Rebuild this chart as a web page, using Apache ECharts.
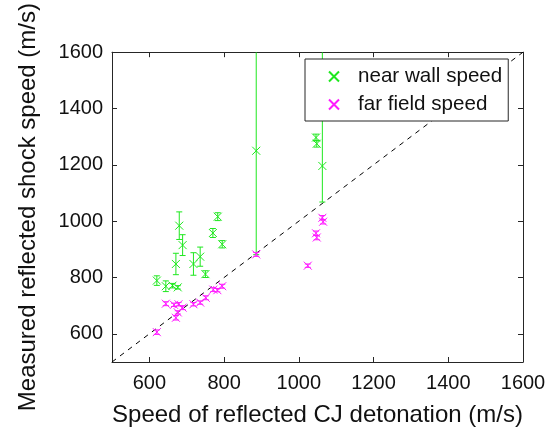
<!DOCTYPE html>
<html><head><meta charset="utf-8">
<script src="https://cdn.jsdelivr.net/npm/echarts@6/dist/echarts.min.js"></script>
<style>html,body{margin:0;padding:0;background:#fff}#c{width:550px;height:434px}</style>
</head><body><div id="c"></div>
<script>
// Axis tick labels
const xTicks = [600, 800, 1000, 1200, 1400, 1600];
const yTicks = [600, 800, 1000, 1200, 1400, 1600];

// near wall speed (green)
const nearX     = [620, 644, 662, 676, 671, 680, 689, 718, 736, 750, 770, 783, 795, 886, 1046, 1048, 1063, 1030];
const nearY     = [789, 769, 771, 765, 848, 984, 915, 848, 874, 812, 958, 1016, 918, 1250, 1297, 1275, 1196, 1385];
const nearErrLo = [17, 19, 8, 6, 38, 49, 37, 40, 34, 12, 16, 14, 13, 369, 12, 12, 128, 10];
const nearErrHi = [17, 19, 8, 6, 38, 49, 37, 40, 34, 12, 16, 14, 13, 500, 12, 12, 500, 10];

// far field speed (magenta)
const farX     = [620, 644, 666, 678, 689, 676, 671, 718, 736, 751, 771, 782, 795, 886, 1024, 1046, 1048, 1063, 1065];
const farY     = [606, 707, 703, 705, 693, 676, 657, 705, 711, 728, 757, 755, 769, 882, 842, 957, 942, 1012, 998];
const farErr   = [8, 7, 6, 6, 7, 6, 8, 6, 6, 7, 7, 6, 7, 7, 6, 8, 8, 8, 8];

// reference line y = x
const refLine = [[500, 500], [1600, 1600]];

const X_MIN = 500, X_MAX = 1600, Y_MIN = 500, Y_MAX = 1600;
const GREEN = '#1ee81e', MAGENTA = '#ff1aff', AX = '#262626';
const XSYM = 'path://M0,0L10,10M10,0L0,10';

function errData(xs, ys, lo, hi) {
  return xs.map((x, i) => [x, ys[i] - lo[i], ys[i] + hi[i]]);
}
function errItem(params, api) {
  const x = api.value(0), lo = api.value(1), hi = api.value(2);
  const top = Math.min(hi, Y_MAX);
  const p1 = api.coord([x, lo]), p2 = api.coord([x, top]);
  const c = api.visual('color');
  const st = { stroke: c, lineWidth: 1 };
  const w = 3;
  const ch = [
    { type: 'line', shape: { x1: p1[0], y1: p1[1], x2: p2[0], y2: p2[1] }, style: st },
    { type: 'line', shape: { x1: p1[0] - w, y1: p1[1], x2: p1[0] + w, y2: p1[1] }, style: st }
  ];
  if (hi <= Y_MAX) ch.push({ type: 'line', shape: { x1: p2[0] - w, y1: p2[1], x2: p2[0] + w, y2: p2[1] }, style: st });
  return { type: 'group', children: ch };
}

const chart = echarts.init(document.getElementById('c'), null, { renderer: 'canvas' });
const tickStyle = { inside: true, length: 5, lineStyle: { color: AX } };
const labStyle = { color: '#111', fontSize: 20, fontFamily: 'Liberation Sans', formatter: v => String(v) };

chart.setOption({
  animation: false,
  backgroundColor: '#fff',
  grid: { left: 112, right: 27, top: 47, bottom: 72 },
  xAxis: [{
    type: 'value', min: X_MIN, max: X_MAX, position: 'bottom',
    axisLine: { show: true, lineStyle: { color: AX } },
    axisTick: Object.assign({ customValues: xTicks }, tickStyle),
    axisLabel: Object.assign({ customValues: xTicks, margin: 11 }, labStyle),
    splitLine: { show: false },
    name: 'Speed of reflected CJ detonation (m/s)', nameLocation: 'middle', nameGap: 41,
    nameTextStyle: { color: '#111', fontSize: 24, fontFamily: 'Liberation Sans' }
  }, {
    type: 'value', min: X_MIN, max: X_MAX, position: 'top',
    axisLine: { show: true, lineStyle: { color: AX } },
    axisTick: Object.assign({ customValues: xTicks }, tickStyle),
    axisLabel: { show: false }, splitLine: { show: false }
  }],
  yAxis: [{
    type: 'value', min: Y_MIN, max: Y_MAX, position: 'left',
    axisLine: { show: true, lineStyle: { color: AX } },
    axisTick: Object.assign({ customValues: yTicks }, tickStyle),
    axisLabel: Object.assign({ customValues: yTicks, margin: 9 }, labStyle),
    splitLine: { show: false },
    name: 'Measured reflected shock speed (m/s)', nameLocation: 'middle', nameGap: 72,
    nameTextStyle: { color: '#111', fontSize: 24, fontFamily: 'Liberation Sans' }
  }, {
    type: 'value', min: Y_MIN, max: Y_MAX, position: 'right',
    axisLine: { show: true, lineStyle: { color: AX } },
    axisTick: Object.assign({ customValues: yTicks }, tickStyle),
    axisLabel: { show: false }, splitLine: { show: false }
  }],
  legend: {
    data: ['near wall speed', 'far field speed'],
    orient: 'vertical', left: 305, top: 59,
    padding: [7, 6, 6, 23], itemGap: 7,
    itemWidth: 10, itemHeight: 10,
    backgroundColor: '#fff', borderColor: AX, borderWidth: 1, borderRadius: 0,
    textStyle: { color: '#111', fontSize: 20.6, fontFamily: 'Liberation Sans', padding: [0, 0, 0, 14] },
    z: 10
  },
  series: [
    {
      type: 'line', data: refLine, symbol: 'none', silent: true,
      lineStyle: { color: '#000', width: 1, type: [5, 5] }, z: 1
    },
    {
      type: 'custom', name: 'nearErr', renderItem: errItem, clip: true,
      itemStyle: { color: GREEN }, data: errData(nearX, nearY, nearErrLo, nearErrHi),
      encode: { x: 0, y: [1, 2] }, z: 2
    },
    {
      type: 'custom', name: 'farErr', renderItem: errItem, clip: true,
      itemStyle: { color: MAGENTA }, data: errData(farX, farY, farErr, farErr),
      encode: { x: 0, y: [1, 2] }, z: 2
    },
    {
      type: 'scatter', name: 'near wall speed', symbol: XSYM, symbolSize: 8,
      data: nearX.map((x, i) => [x, nearY[i]]),
      itemStyle: { color: 'rgba(0,0,0,0)', borderColor: GREEN, borderWidth: 1, opacity: 1 }, z: 3
    },
    {
      type: 'scatter', name: 'far field speed', symbol: XSYM, symbolSize: 8,
      data: farX.map((x, i) => [x, farY[i]]),
      itemStyle: { color: 'rgba(0,0,0,0)', borderColor: MAGENTA, borderWidth: 1, opacity: 1 }, z: 3
    }
  ]
});
</script>
</body></html>
